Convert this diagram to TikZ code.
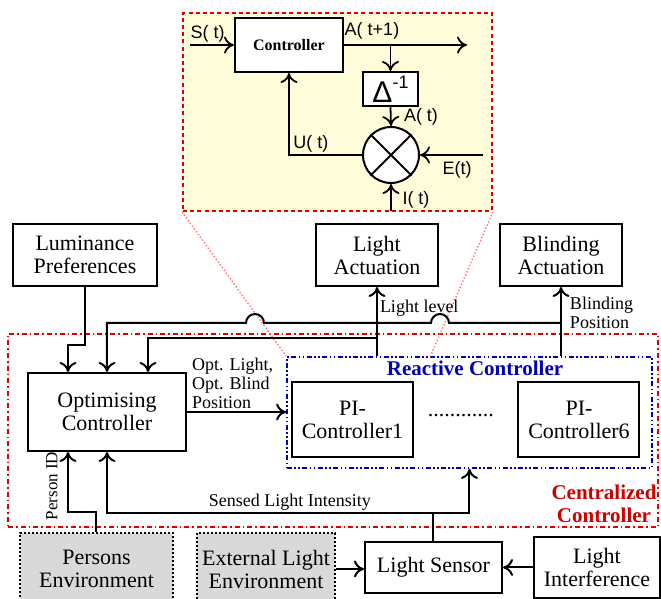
\documentclass[tikz,border=0pt]{standalone}
\usepackage{fontspec}
\setmainfont{Liberation Serif}
\newfontfamily\insetfont{Liberation Sans}
\usetikzlibrary{positioning, arrows.meta, calc}

\begin{document}
\begin{tikzpicture}[
          x=0.5pt, y=-0.5pt,
          font=\fontsize{11}{11.5}\selectfont,
          >={Computer Modern Rightarrow[length=5pt, width=8.5pt]},
          main_box/.style={draw, line width=1pt, align=center, fill=white, inner sep=1pt},
          env_box/.style={main_box, densely dotted, fill=gray!30},
          frame_box/.style={line width=0.9pt, inner sep=0pt},
          arrow/.style={->, line width=1pt},
          lbl/.style={font=\fontsize{9}{9.5}\selectfont, align=left, inner sep=1pt},
          inset_arrow/.style={->, line width=0.9pt},
          inset_lbl/.style={font=\insetfont\fontsize{9}{10}\selectfont, inner sep=1pt},
          fan/.style={draw=red!55, densely dotted, line width=0.7pt}
      ]
          \useasboundingbox (0,0) rectangle (661,599);

          % Zoomed view of a PI-Controller (top)
          \node[frame_box, draw=red!85!black, dash pattern=on 2pt off 1.6pt, fill=yellow!15, minimum width=154.5pt, minimum height=99pt] (zoom) at (337.5,112) {};
          \node[main_box, minimum width=54pt, minimum height=27pt, font=\fontsize{8}{9}\selectfont\bfseries] (ictrl) at (289,45) {Controller};
          \node[main_box, minimum width=27.5pt, minimum height=17pt] (delay) at (390.5,89) {\insetfont\fontsize{15}{16}\selectfont Δ\raisebox{0.9ex}{\fontsize{9}{9}\selectfont -1}};
          \node[draw, circle, line width=1pt, fill=white, minimum size=28pt] (mix) at (391,155) {};
          \draw[line width=1pt] (mix.north west) -- (mix.south east) (mix.north east) -- (mix.south west);

          \coordinate (sIn) at (190,45);
          \coordinate (aOut) at (467,45);
          \coordinate (eIn) at (483,155);
          \coordinate (iIn) at (391,211);
          \draw[inset_arrow] (sIn) -- node[inset_lbl, above, pos=0.4] {S( t)} (ictrl.west);
          \draw[inset_arrow] (ictrl.east) -- (aOut);
          \node[inset_lbl] (aLbl) at (372,31) {A( t+1)};
          \draw[inset_arrow] (delay.north |- ictrl.east) -- (delay.north);
          \draw[inset_arrow] (delay.south) -- (mix.north);
          \node[inset_lbl] (atLbl) at (421,117) {A( t)};
          \draw[inset_arrow] (eIn) -- (mix.east);
          \node[inset_lbl] (eLbl) at (457,170) {E(t)};
          \draw[inset_arrow] (iIn) -- (mix.south);
          \node[inset_lbl] (iLbl) at (416,200) {I( t)};
          \draw[inset_arrow] (mix.west) -| node[inset_lbl, above, pos=0.35] {U( t)} (ictrl.south);

          % Centralized controller frame
          \node[frame_box, draw=red!85!black, dash pattern=on 2.5pt off 1.5pt on 0.8pt off 1.5pt, minimum width=325pt, minimum height=96.5pt] (central) at (333,430.5) {};
          \node[font=\fontsize{10.5}{11.5}\selectfont\bfseries, text=red!80!black, align=center] (clbl) at (604,504) {Centralized\\Controller};

          % Reactive controller frame with PI-Controllers
          \node[frame_box, draw=blue!70!black, dash pattern=on 2.5pt off 1.2pt on 0.8pt off 1.2pt on 0.8pt off 1.2pt, minimum width=182.5pt, minimum height=55.5pt] (react) at (469.5,412.5) {};
          \node[font=\fontsize{10.5}{11.5}\selectfont\bfseries, text=blue!70!black] (rlbl) at (475,368) {Reactive Controller};
          \node[main_box, minimum width=60.5pt, minimum height=37.5pt] (pi1) at (352.5,419.5) {PI-\\Controller1};
          \node[main_box, minimum width=60.5pt, minimum height=37.5pt] (pi6) at (579,419.5) {PI-\\Controller6};
          \node (dots) at (461,416) {............};

          % Lines from the zoomed view
          \draw[fan] (zoom.south west) -- (react.north west);
          \draw[fan] (zoom.south east) -- (430,357);

          % Upper boxes
          \node[main_box, minimum width=72pt, minimum height=31pt] (lum) at (85,255) {Luminance\\Preferences};
          \node[main_box, minimum width=61pt, minimum height=31pt] (lightact) at (377,255) {Light\\Actuation};
          \node[main_box, minimum width=61pt, minimum height=31pt] (blind) at (561,255) {Blinding\\Actuation};

          \node[main_box, minimum width=79pt, minimum height=39pt] (opt) at (107,412) {Optimising\\Controller};

          % Lower boxes
          \node[env_box, minimum width=76.5pt, minimum height=36pt] (persons) at (96.5,569) {Persons\\Environment};
          \node[env_box, minimum width=69pt, minimum height=36pt] (extlight) at (266,569) {External Light\\Environment};
          \node[main_box, minimum width=68.5pt, minimum height=25.5pt] (sensor) at (433.5,567.5) {Light Sensor};
          \node[main_box, minimum width=63pt, minimum height=30.5pt] (interf) at (597,567.5) {Light\\Interference};

          % Connectors
          \draw[arrow] (lightact.south |- react.north) -- node[lbl, right, pos=0.69] {Light level} (lightact.south);
          \draw[arrow] (blind.south |- react.north) -- node[lbl, right, pos=0.63, xshift=3pt] {Blinding\\Position} (blind.south);
          \draw[arrow] (lightact.south |- 0,338) -| ($(opt.north)+(41,0)$);
          \draw[arrow] (blind.south |- 0,323) -- (449,323) arc[start angle=0, end angle=180, radius=4.5pt] -- (264,323) arc[start angle=0, end angle=180, radius=4.5pt] -| (opt.north);
          \draw[arrow] (lum.south) -- ++(0,58) -| ($(opt.north)+(-39,0)$);
          \draw[arrow] (opt.east) -- node[lbl, above, pos=0.46] {Opt. Light,\\Opt. Blind\\Position} (opt.east -| react.west);

          \coordinate (sj) at (433.5,513);
          \draw[arrow] (sensor.north) -- (sj) -| (react.south);
          \draw[arrow] (sj) -| node[lbl, above, pos=0.22] {Sensed Light Intensity} (opt.south);
          \draw[arrow] (persons.north) -- ++(0,-20) -| ($(opt.south)+(-39,0)$);
          \node[lbl, rotate=90, font=\fontsize{8.5}{9}\selectfont] (pid) at (52,486) {Person ID};

          \draw[arrow] (extlight.east) -- (extlight.east -| sensor.west);
          \draw[arrow] (interf.west) -- (sensor.east);
      \end{tikzpicture}
\end{document}
